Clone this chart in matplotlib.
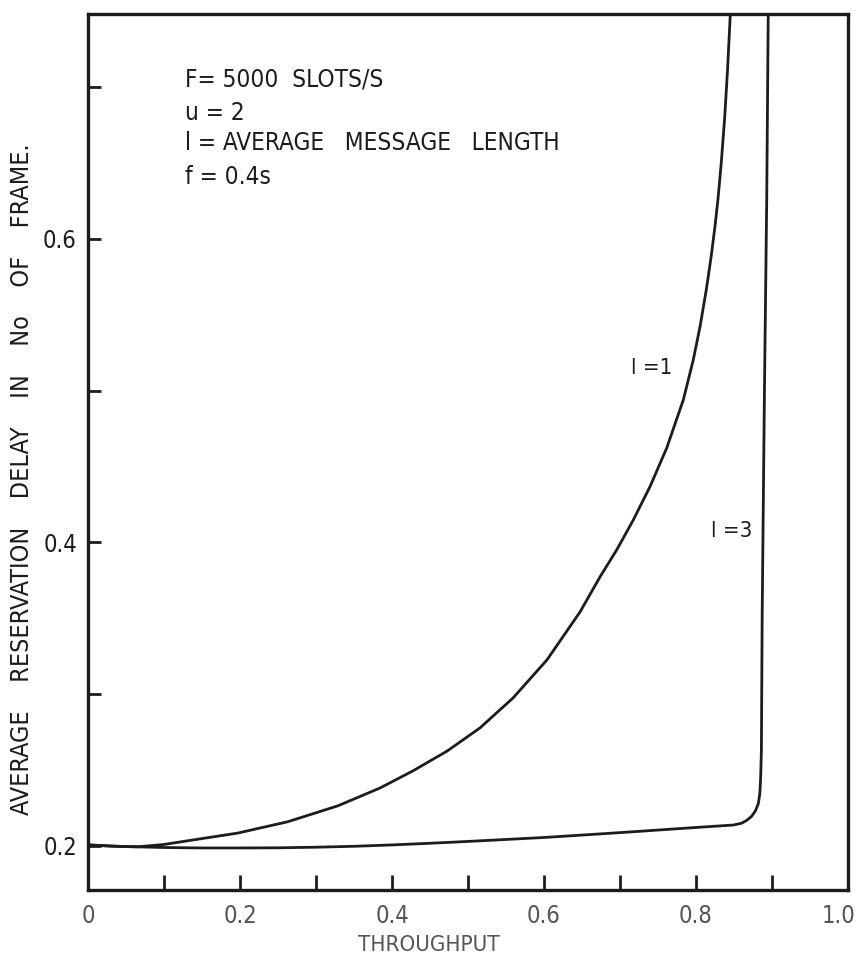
import matplotlib
matplotlib.use("Agg")
import matplotlib.pyplot as plt
from matplotlib.ticker import FixedLocator, NullFormatter, FixedFormatter
from matplotlib.transforms import ScaledTranslation

plt.rcParams['font.family'] = ['DejaVu Sans']
plt.rcParams['font.stretch'] = 'condensed'

# Reservation delay curves (throughput vs. delay in frames)
thr_l1 = [0.0, 0.033, 0.066, 0.1, 0.132, 0.197, 0.263, 0.329, 0.3842,
          0.4276, 0.4724, 0.5158, 0.5592, 0.6039, 0.6474, 0.6737, 0.6957,
          0.7175, 0.7395, 0.7614, 0.7833, 0.7964, 0.8053, 0.8135, 0.8199,
          0.8249, 0.8288, 0.8332, 0.8377, 0.8413, 0.8453]
delay_l1 = [0.2007, 0.1998, 0.1995, 0.2010, 0.2035, 0.2085, 0.2160, 0.2265,
            0.2382, 0.2495, 0.2625, 0.2778, 0.2975, 0.3226, 0.3542, 0.3773,
            0.3951, 0.4148, 0.4368, 0.4621, 0.4939, 0.5203, 0.5422, 0.5664,
            0.5883, 0.6081, 0.6257, 0.6500, 0.6800, 0.7100, 0.7500]

thr_l3 = [0.0, 0.05, 0.1, 0.15, 0.2, 0.25, 0.3, 0.35, 0.4, 0.45, 0.5, 0.55,
          0.6, 0.65, 0.7, 0.75, 0.8, 0.849, 0.860, 0.867, 0.873, 0.878,
          0.882, 0.884, 0.885, 0.886, 0.887, 0.890, 0.893, 0.895]
delay_l3 = [0.2007, 0.1996, 0.1990, 0.1987, 0.1987, 0.1988, 0.1992, 0.1998,
            0.2007, 0.2018, 0.2030, 0.2043, 0.2056, 0.2072, 0.2088, 0.2105,
            0.2122, 0.2138, 0.2150, 0.2170, 0.2195, 0.2230, 0.2280, 0.2350,
            0.2450, 0.2630, 0.3510, 0.5000, 0.6260, 0.7500]

x_major = [0.0, 0.2, 0.4, 0.6, 0.8, 1.0]
x_major_labels = ["0", "0.2", "0.4", "0.6", "0.8", "1.0"]
x_minor = [0.1, 0.3, 0.5, 0.7, 0.9]
y_major = [0.2, 0.4, 0.6]
y_major_labels = ["0.2", "0.4", "0.6"]
y_minor = [0.3, 0.5, 0.7]

params_text = ["F= 5000  SLOTS/S", "u = 2", "l = AVERAGE   MESSAGE   LENGTH", "f = 0.4s"]
params_y = [0.925, 0.887, 0.853, 0.814]

ink = "#1c1c1c"
grey = "#555555"

fig = plt.figure(figsize=(8.58, 9.6), dpi=100)
ax = fig.add_axes([0.1026, 0.0729, 0.8858, 0.9125])

ax.plot(thr_l1, delay_l1, color=ink, lw=2.0, solid_capstyle='round',
        solid_joinstyle='round')
ax.plot(thr_l3, delay_l3, color=ink, lw=2.0, solid_capstyle='round',
        solid_joinstyle='round')

ax.set_xlim(0.0, 1.0)
ax.set_ylim(0.171, 0.748)

for s in ax.spines.values():
    s.set_linewidth(2.4)
    s.set_color(ink)

ax.xaxis.set_major_locator(FixedLocator(x_major))
ax.xaxis.set_major_formatter(FixedFormatter(x_major_labels))
ax.xaxis.set_minor_locator(FixedLocator(x_minor))
ax.xaxis.set_minor_formatter(NullFormatter())
ax.yaxis.set_major_locator(FixedLocator(y_major))
ax.yaxis.set_major_formatter(FixedFormatter(y_major_labels))
ax.yaxis.set_minor_locator(FixedLocator(y_minor))
ax.yaxis.set_minor_formatter(NullFormatter())

ax.tick_params(axis='x', which='both', direction='in', length=11, width=2.0,
               color=ink, labelsize=17, labelcolor=grey, pad=10)
ax.tick_params(axis='y', which='both', direction='in', length=9, width=2.0,
               color=ink, labelsize=17, labelcolor=ink, pad=8)

# keep the last x label inside the figure edge
fig.canvas.draw()
last = ax.get_xticklabels()[-1]
last.set_transform(last.get_transform() +
                   ScaledTranslation(-9 / 100, 0, fig.dpi_scale_trans))

ax.set_xlabel("THROUGHPUT", fontsize=16, color=grey)
ax.xaxis.label.set_va('center')
ax.xaxis.set_label_coords(0.449, -0.063)
ax.set_ylabel("AVERAGE    RESERVATION    DELAY    IN    No    OF    FRAME.",
              fontsize=18, color=ink)
ax.yaxis.label.set_va('center')
ax.yaxis.set_label_coords(-0.087, 0.469)

for line, yy in zip(params_text, params_y):
    ax.text(0.128, yy, line, transform=ax.transAxes, fontsize=17.5,
            color=ink, ha='left', va='center')

ax.text(0.742, 0.596, "l =1", transform=ax.transAxes, fontsize=16,
        color=ink, ha='center', va='center')
ax.text(0.847, 0.410, "l =3", transform=ax.transAxes, fontsize=16,
        color=ink, ha='center', va='center')

fig.savefig("out.png", dpi=100, facecolor="white")
